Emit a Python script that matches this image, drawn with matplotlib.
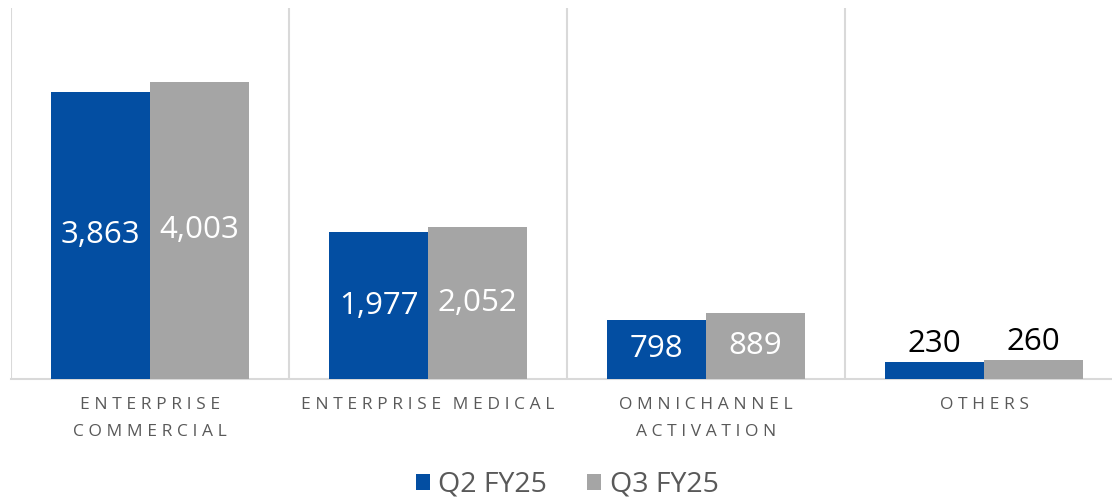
import matplotlib
matplotlib.use("Agg")
import matplotlib.pyplot as plt
import numpy as np

categories = ["ENTERPRISE\nCOMMERCIAL", "ENTERPRISE MEDICAL", "OMNICHANNEL\nACTIVATION", "OTHERS"]
series_names = ["Q2 FY25", "Q3 FY25"]
q2_values = [3863, 1977, 798, 230]
q3_values = [4003, 2052, 889, 260]
colors = ["#034EA2", "#A5A5A5"]

plt.rcParams['font.family'] = ['Open Sans', 'DejaVu Sans']

fig = plt.figure(figsize=(11.12, 5.01), dpi=100)
ax = fig.add_axes([11/1112, 122/501, 1.0, 371.5/501])

x = np.arange(len(categories))
w = 0.356
bars = []
for i, (vals, col) in enumerate(zip([q2_values, q3_values], colors)):
    b = ax.bar(x + (i - 0.5) * w, vals, width=w, color=col, label=series_names[i], zorder=3)
    bars.append(b)

ax.set_xlim(-0.5, len(categories) - 0.5)
ax.set_ylim(0, 5000)

for b in bars:
    for rect in b:
        v = rect.get_height()
        cx = rect.get_x() + rect.get_width() / 2
        txt = f"{int(v):,}"
        if v < 500:
            ax.text(cx, v + 40, txt, ha='center', va='bottom', color='black', fontsize=22.5, zorder=4)
        else:
            ax.text(cx, v / 2, txt, ha='center', va='center', color='white', fontsize=22.5, zorder=4)

# separators
for s in np.arange(-0.5, len(categories), 1.0):
    ax.axvline(s, color='#D9D9D9', lw=1.5, zorder=1)

for sp in ['top', 'right', 'left']:
    ax.spines[sp].set_visible(False)
ax.spines['bottom'].set_color('#D9D9D9')
ax.spines['bottom'].set_linewidth(1.5)
ax.set_yticks([])

def spaced(s):
    out = []
    for line in s.split("\n"):
        words = ["\u2009\u200a".join(list(wd)) for wd in line.split(" ")]
        out.append("\u2009\u2009\u2009\u2009".join(words))
    return "\n".join(out)

ax.set_xticks(x)
ax.set_xticklabels([spaced(c) for c in categories], color='#595959', fontsize=12.5, linespacing=1.9)
ax.tick_params(axis='x', length=0, pad=13)

leg = fig.legend(handles=bars, labels=series_names, loc='center', bbox_to_anchor=(0.510, 1 - 485/501),
                 ncol=2, frameon=False, fontsize=20.5, handlelength=0.5, handleheight=0.5,
                 handletextpad=0.3, columnspacing=1.4, labelcolor='#595959')

fig.savefig("out.png", dpi=100)
